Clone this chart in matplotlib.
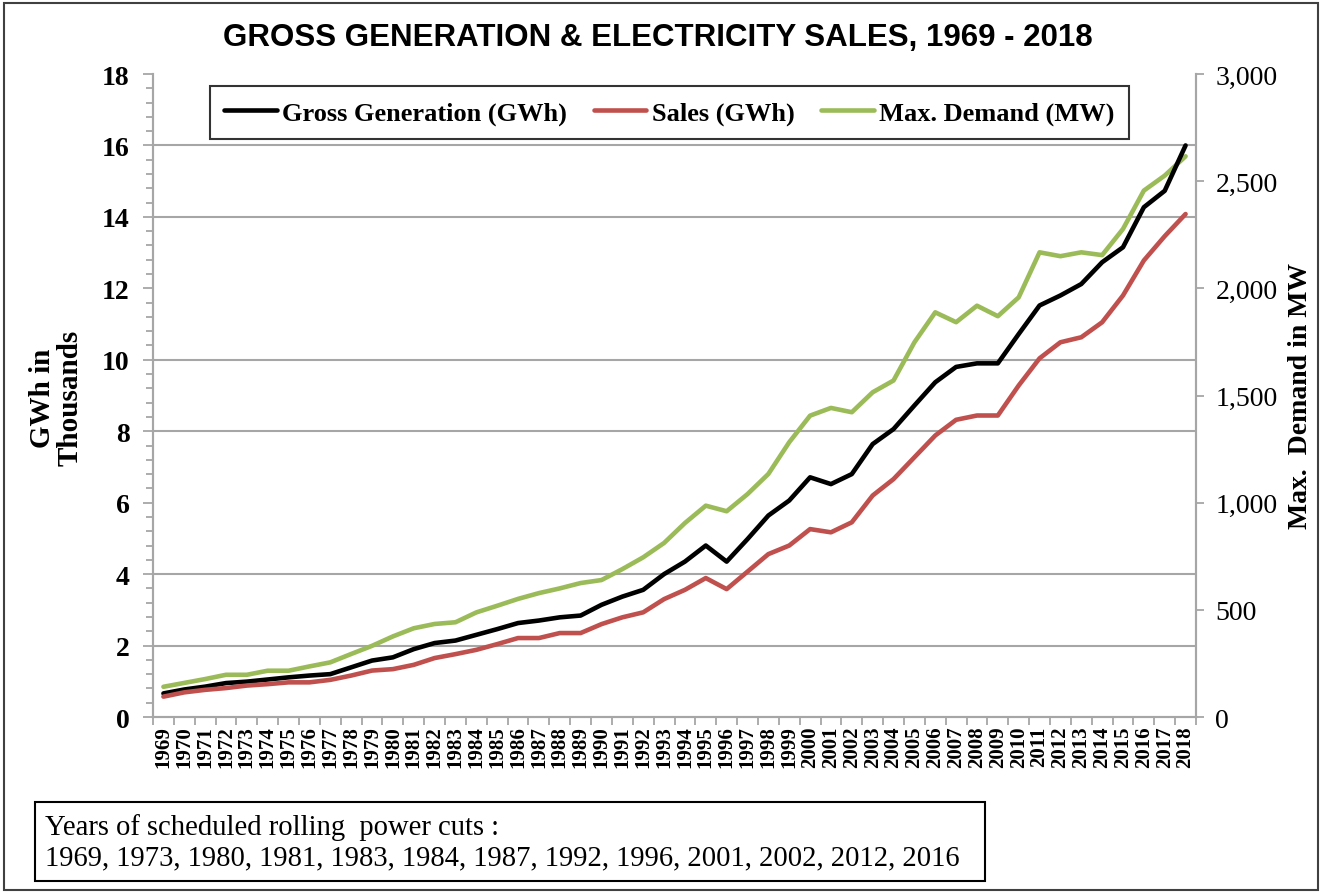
import matplotlib
matplotlib.use('Agg')
import matplotlib.pyplot as plt
from matplotlib.ticker import MultipleLocator, FuncFormatter
from matplotlib.patches import Rectangle

years = list(range(1969, 2019))

# GWh in thousands
gross_gen = [0.66, 0.77, 0.85, 0.95, 0.99, 1.05, 1.11, 1.16, 1.20, 1.39,
             1.58, 1.67, 1.90, 2.07, 2.14, 2.30, 2.46, 2.63, 2.70, 2.79,
             2.84, 3.14, 3.37, 3.56, 4.00, 4.35, 4.80, 4.35, 4.98, 5.64,
             6.06, 6.71, 6.52, 6.80, 7.64, 8.06, 8.72, 9.37, 9.80, 9.90,
             9.90, 10.72, 11.52, 11.80, 12.12, 12.73, 13.15, 14.27, 14.73, 16.00]
sales = [0.57, 0.69, 0.76, 0.81, 0.88, 0.92, 0.97, 0.97, 1.04, 1.16,
         1.30, 1.34, 1.46, 1.65, 1.76, 1.88, 2.04, 2.21, 2.21, 2.35,
         2.35, 2.60, 2.79, 2.93, 3.30, 3.56, 3.89, 3.58, 4.07, 4.56,
         4.80, 5.26, 5.17, 5.45, 6.20, 6.66, 7.27, 7.88, 8.32, 8.44,
         8.44, 9.28, 10.04, 10.49, 10.63, 11.05, 11.80, 12.78, 13.46, 14.08]
# MW
max_demand = [141, 159, 177, 197, 197, 216, 216, 236, 255, 294,
              332, 376, 414, 434, 442, 488, 519, 551, 578, 600,
              625, 639, 690, 745, 812, 905, 986, 960, 1040, 1134,
              1282, 1406, 1442, 1422, 1515, 1570, 1748, 1888, 1842, 1919,
              1870, 1958, 2168, 2150, 2168, 2155, 2277, 2456, 2526, 2616]

cut_years = [1969, 1973, 1980, 1981, 1983, 1984, 1987, 1992, 1996, 2001, 2002, 2012, 2016]

serif = 'Liberation Serif'
grid_col = '#A6A6A6'

fig = plt.figure(figsize=(13.22, 8.95), dpi=100)
ax = fig.add_axes([153/1322, 1 - 718/895, (1196 - 153)/1322, (718 - 75)/895])
ax2 = ax.twinx()

# green series on the right axis, kept underneath the GWh lines
ax.set_zorder(ax2.get_zorder() + 1)
ax.patch.set_visible(False)

l3, = ax2.plot(years, max_demand, color='#9BBB59', lw=3.3, solid_capstyle='round',
               label='Max. Demand (MW)')
l1, = ax.plot(years, gross_gen, color='black', lw=3.3, solid_capstyle='round',
              label='Gross Generation (GWh)')
l2, = ax.plot(years, sales, color='#C0504D', lw=3.3, solid_capstyle='round',
              label='Sales (GWh)')

ax.set_xlim(1968.5, 2018.5)
ax.set_ylim(0, 18)
ax2.set_ylim(0, 3000)

# gridlines every 2 GWh-thousand, drawn on the lower axes
ax2.yaxis.set_minor_locator(MultipleLocator(3000 / 9))
ax2.grid(which='minor', axis='y', color=grid_col, lw=1.5)
ax2.tick_params(axis='y', which='minor', length=0)

ax.yaxis.set_minor_locator(MultipleLocator(0.4))
ax.tick_params(axis='y', which='major', length=7, width=1.3, color=grid_col, pad=10)
ax.tick_params(axis='y', which='minor', length=5, width=1.3, color=grid_col)
ax.set_yticks(range(0, 19, 2))
ax.set_yticklabels([str(v) for v in range(0, 19, 2)], fontfamily=serif,
                   fontweight='bold', fontsize=20)

ax.set_xticks(years)
ax.set_xticklabels([str(y) for y in years], rotation=90, fontfamily=serif,
                   fontweight='bold', fontsize=15)
ax.set_xticks([y + 0.5 for y in years[:-1]] + [1968.5, 2018.5], minor=True)
ax.tick_params(axis='x', which='major', length=0, pad=6)
ax.tick_params(axis='x', which='minor', length=6, width=1.3, color=grid_col)

ax2.yaxis.set_major_locator(MultipleLocator(500))
ax2.yaxis.set_major_formatter(FuncFormatter(lambda v, p: f'{int(v):,}'))
ax2.tick_params(axis='y', which='major', length=6, width=1.3, color=grid_col, pad=8)
for lab in ax2.get_yticklabels():
    lab.set_fontfamily(serif)
    lab.set_fontsize(20)

for a in (ax, ax2):
    a.spines['top'].set_visible(False)
    for s in ('left', 'right', 'bottom'):
        a.spines[s].set_color(grid_col)
        a.spines[s].set_linewidth(1.5)

fig.text(0.0425, 0.555, 'GWh in\nThousands', rotation=90, ha='center', va='center',
         fontfamily=serif, fontweight='bold', fontsize=21, linespacing=1.05)
fig.text(0.984, 0.557, 'Max.  Demand in MW', rotation=90, ha='center', va='center',
         fontfamily=serif, fontweight='bold', fontsize=20)

fig.text(658/1322, 1 - 38/895, 'GROSS GENERATION & ELECTRICITY SALES, 1969 - 2018',
         ha='center', va='center', fontfamily='Liberation Sans', fontweight='bold',
         fontsize=22.5)

leg = ax.legend(handles=[l1, l2, l3], loc='upper center', bbox_to_anchor=(0.495, 0.981),
                borderaxespad=0, ncol=3, frameon=True, fancybox=False, handlelength=2.0,
                handletextpad=0.2, columnspacing=1.0, borderpad=0.55,
                prop={'family': serif, 'weight': 'bold', 'size': 19})
leg.get_frame().set_edgecolor('black')
leg.get_frame().set_linewidth(1.5)

# note box at the bottom
fig.patches.append(Rectangle((35/1322, 1 - 882/895), 950/1322, 79/895,
                             transform=fig.transFigure, fill=False,
                             edgecolor='black', lw=1.5))
fig.text(45/1322, 1 - 828/895, 'Years of scheduled rolling  power cuts :',
         ha='left', va='center', fontfamily=serif, fontsize=20.6)
fig.text(45/1322, 1 - 858/895, ', '.join(str(y) for y in cut_years),
         ha='left', va='center', fontfamily=serif, fontsize=20.6)

# outer chart border
fig.patches.append(Rectangle((4/1322, 4/895), 1314/1322, 887/895,
                             transform=fig.transFigure, fill=False,
                             edgecolor='#404040', lw=1.5))

fig.savefig('out.png', dpi=100)
